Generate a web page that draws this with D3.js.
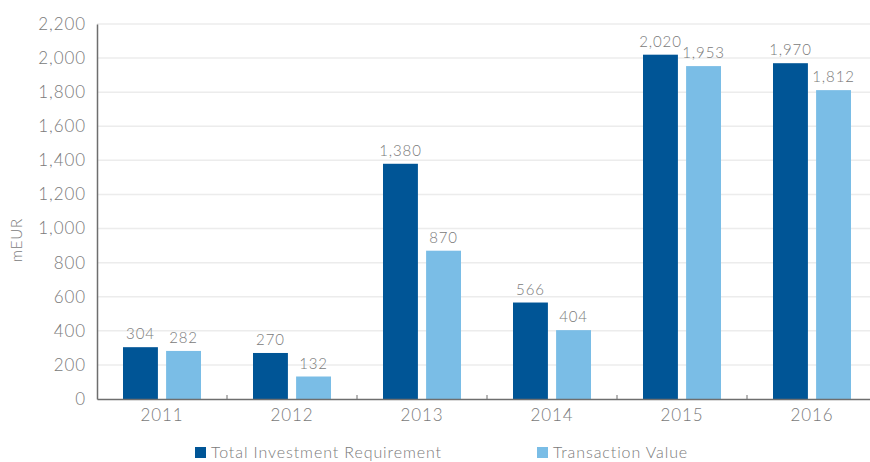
<!DOCTYPE html>
<html>
<head>
<meta charset="utf-8">
<script src="https://cdn.jsdelivr.net/npm/d3@7"></script>
<style>
  body { margin: 0; background: #fff; }
  text { font-family: Lato, "Open Sans", sans-serif; font-weight: 300; fill: #7a7a7a; letter-spacing: 0.9px; }
</style>
</head>
<body>
<div id="chart"></div>
<script>
// data
var years = ["2011", "2012", "2013", "2014", "2015", "2016"];
var totalInvestment = [304, 270, 1380, 566, 2020, 1970];
var transactionValue = [282, 132, 870, 404, 1953, 1812];
var seriesNames = ["Total Investment Requirement", "Transaction Value"];
var seriesColors = ["#005596", "#7abde6"];
var yTicks = [0, 200, 400, 600, 800, 1000, 1200, 1400, 1600, 1800, 2000, 2200];

var svgWidth = 870;
var svgHeight = 462;

var chartMargin = { top: 24, right: -7, bottom: 63, left: 97 };
var chartWidth = svgWidth - chartMargin.left - chartMargin.right;
var chartHeight = svgHeight - chartMargin.top - chartMargin.bottom;

var svg = d3.select("#chart")
    .append("svg")
    .attr("width", svgWidth)
    .attr("height", svgHeight);

var chartGroup = svg.append("g")
    .attr("transform", `translate(${chartMargin.left}, ${chartMargin.top})`);

var xScale = d3.scaleBand()
    .domain(years)
    .range([0, chartWidth]);

var xInner = d3.scaleBand()
    .domain([0, 1])
    .range([26, xScale.bandwidth() - 26])
    .paddingInner(0.19);

var yScale = d3.scaleLinear()
    .domain([0, 2200])
    .range([chartHeight, 0]);

// gridlines
chartGroup.selectAll(".grid")
    .data(yTicks.slice(1))
    .enter()
    .append("line")
    .attr("x1", 0)
    .attr("x2", svgWidth - chartMargin.left)
    .attr("y1", d => yScale(d))
    .attr("y2", d => yScale(d))
    .attr("stroke", "#ececec")
    .attr("stroke-width", 1.5);

// y axis
var yAxis = d3.axisLeft(yScale)
    .tickValues(yTicks)
    .tickFormat(d3.format(","))
    .tickSize(0)
    .tickPadding(11);

var yG = chartGroup.append("g").call(yAxis);
yG.select(".domain").attr("stroke", "#6e6e6e").attr("stroke-width", 1.5);
yG.selectAll("text").style("font-size", "17px").style("font-family", "Lato, sans-serif");

// bars
var rows = years.map((y, i) => ({ year: y, values: [totalInvestment[i], transactionValue[i]] }));

var groups = chartGroup.selectAll(".yr")
    .data(rows)
    .enter()
    .append("g")
    .attr("transform", d => `translate(${xScale(d.year)},0)`);

groups.selectAll("rect")
    .data(d => d.values.map((v, k) => ({ k: k, v: v })))
    .enter()
    .append("rect")
    .attr("x", d => xInner(d.k))
    .attr("width", xInner.bandwidth())
    .attr("y", d => yScale(d.v))
    .attr("height", d => chartHeight - yScale(d.v))
    .attr("fill", d => seriesColors[d.k]);

groups.selectAll(".lbl")
    .data(d => d.values.map((v, k) => ({ k: k, v: v })))
    .enter()
    .append("text")
    .attr("x", d => xInner(d.k) + xInner.bandwidth() / 2)
    .attr("y", d => yScale(d.v) - 8)
    .attr("text-anchor", "middle")
    .style("font-size", "15px")
    .text(d => d3.format(",")(d.v));

// x axis
var xAxis = d3.axisBottom(xScale).tickSize(0).tickPadding(10);
var xG = chartGroup.append("g")
    .attr("transform", `translate(0, ${chartHeight})`)
    .call(xAxis);
xG.select(".domain").attr("stroke", "#6e6e6e").attr("stroke-width", 1.5);
xG.selectAll("text").style("font-size", "17px").style("font-family", "Lato, sans-serif");

// small tick marks between the years
chartGroup.selectAll(".sep")
    .data(years.slice(1))
    .enter()
    .append("line")
    .attr("x1", d => xScale(d))
    .attr("x2", d => xScale(d))
    .attr("y1", chartHeight)
    .attr("y2", chartHeight - 4)
    .attr("stroke", "#6e6e6e");

// y axis title
svg.append("text")
    .attr("transform", "translate(22, 240) rotate(-90)")
    .attr("text-anchor", "middle")
    .style("font-size", "15px")
    .text("mEUR");

// legend
var legendX = [195, 537];
var legend = svg.selectAll(".legend")
    .data(seriesNames)
    .enter()
    .append("g")
    .attr("transform", (d, i) => `translate(${legendX[i]}, 447)`);

legend.append("rect")
    .attr("width", 11)
    .attr("height", 11)
    .attr("fill", (d, i) => seriesColors[i]);

legend.append("text")
    .attr("x", 16)
    .attr("y", 11)
    .style("font-size", "16px")
    .text(d => d);
</script>
</body>
</html>
